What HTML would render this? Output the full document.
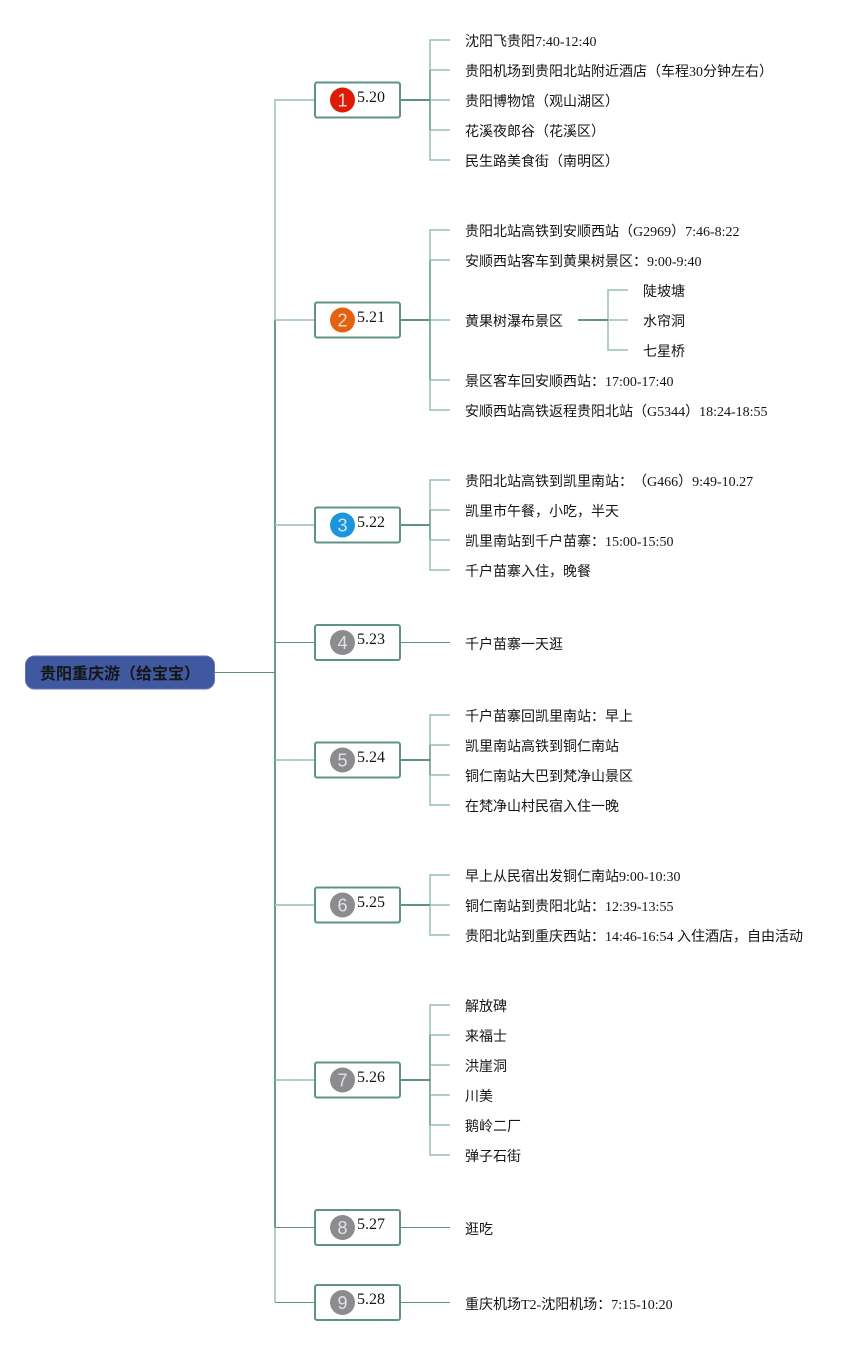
<!DOCTYPE html>
<html lang="zh"><head><meta charset="utf-8"><title>贵阳重庆游</title>
<style>
html,body{margin:0;padding:0;background:#fff}
svg{display:block}
text{font-family:"Liberation Serif","WenQuanYi Zen Hei","Noto Sans CJK SC",serif;font-size:14px;fill:#151515}
.d{font-size:16px}
.n{font-family:"Liberation Sans","DejaVu Sans",sans-serif;font-size:18px;fill:#eef2f4;text-anchor:middle;opacity:.85}
.l{stroke:#a5c8bd;stroke-width:1.7;fill:none}
.k{stroke:#6a9c8d;stroke-width:2;fill:none}
.t{stroke:#5b9080;stroke-width:1;fill:none}
.k2{stroke:#5f9485;stroke-width:2;fill:none}
.m{stroke:#7dab9e;stroke-width:1.7;fill:none}
.b{fill:#fff;stroke:#5f9485;stroke-width:2}
</style></head><body>
<svg width="863" height="1345" viewBox="0 0 863 1345" xmlns="http://www.w3.org/2000/svg">
<path class="l" d="M315 100H275V320"/>
<path class="k" d="M275 320V1227"/>
<path class="l" d="M275 1227V1302"/>
<path class="t" d="M215 672.500H275"/>
<path class="l" d="M275 320H315M275 525H315M275 760H315M275 905H315M275 1080H315"/>
<path class="t" d="M275 642.500H315M275 1227.500H315M275 1302.500H315M400 642.500H450M400 1227.500H450M400 1302.500H450"/>

<path class="l" d="M450 40H430V160H450M430 70H450M430 100H450M430 130H450"/>
<path class="l" d="M450 230H430V410H450M430 260H450M430 320H450M430 380H450"/>
<path class="l" d="M450 480H430V570H450M430 510H450M430 540H450"/>
<path class="l" d="M450 715H430V805H450M430 745H450M430 775H450"/>
<path class="l" d="M450 875H430V935H450M430 905H450"/>
<path class="l" d="M450 1005H430V1155H450M430 1035H450M430 1065H450M430 1095H450M430 1125H450"/>
<path class="l" d="M628 290H608V350H628M608 320H628"/>
<path class="m" d="M430 70V130M430 260V380M430 510V540M430 745V775M430 1035V1125"/>
<path class="k2" d="M400 100H430M400 320H430M400 525H430M400 760H430M400 905H430M400 1080H430M578 320H608"/>

<rect x="25.500" y="656" width="189" height="33" rx="9" fill="#3f58a0" stroke="#5f75b3" stroke-width="1"/>
<text x="40" y="679" font-weight="bold" style="font-size:16px;font-family:'Liberation Sans','Noto Sans CJK SC',sans-serif">贵阳重庆游（给宝宝）</text>

<rect class="b" x="315" y="82.500" width="85" height="35" rx="2"/>
<rect class="b" x="315" y="302.500" width="85" height="35" rx="2"/>
<rect class="b" x="315" y="507.500" width="85" height="35" rx="2"/>
<rect class="b" x="315" y="625" width="85" height="35" rx="2"/>
<rect class="b" x="315" y="742.500" width="85" height="35" rx="2"/>
<rect class="b" x="315" y="887.500" width="85" height="35" rx="2"/>
<rect class="b" x="315" y="1062.500" width="85" height="35" rx="2"/>
<rect class="b" x="315" y="1210" width="85" height="35" rx="2"/>
<rect class="b" x="315" y="1285" width="85" height="35" rx="2"/>

<circle cx="342.500" cy="100" r="12.500" fill="#dc1c06"/>
<circle cx="342.500" cy="320" r="12.500" fill="#e4610f"/>
<circle cx="342.500" cy="525" r="12.500" fill="#1b96dc"/>
<circle cx="342.500" cy="642.500" r="12.500" fill="#8c8c8e"/>
<circle cx="342.500" cy="760" r="12.500" fill="#8c8c8e"/>
<circle cx="342.500" cy="905" r="12.500" fill="#8c8c8e"/>
<circle cx="342.500" cy="1080" r="12.500" fill="#8c8c8e"/>
<circle cx="342.500" cy="1227.500" r="12.500" fill="#8c8c8e"/>
<circle cx="342.500" cy="1302.500" r="12.500" fill="#8c8c8e"/>
<text class="n" x="342.500" y="106.500">1</text>
<text class="n" x="342.500" y="326.500">2</text>
<text class="n" x="342.500" y="531.500">3</text>
<text class="n" x="342.500" y="649">4</text>
<text class="n" x="342.500" y="766.500">5</text>
<text class="n" x="342.500" y="911.500">6</text>
<text class="n" x="342.500" y="1086.500">7</text>
<text class="n" x="342.500" y="1234">8</text>
<text class="n" x="342.500" y="1309">9</text>

<text class="d" x="357" y="102">5.20</text>
<text class="d" x="357" y="322">5.21</text>
<text class="d" x="357" y="527">5.22</text>
<text class="d" x="357" y="644">5.23</text>
<text class="d" x="357" y="762">5.24</text>
<text class="d" x="357" y="907">5.25</text>
<text class="d" x="357" y="1082">5.26</text>
<text class="d" x="357" y="1229">5.27</text>
<text class="d" x="357" y="1304">5.28</text>

<text x="465" y="46">沈阳飞贵阳7:40-12:40</text>
<text x="465" y="76">贵阳机场到贵阳北站附近酒店（车程30分钟左右）</text>
<text x="465" y="106">贵阳博物馆（观山湖区）</text>
<text x="465" y="136">花溪夜郎谷（花溪区）</text>
<text x="465" y="166">民生路美食街（南明区）</text>
<text x="465" y="236">贵阳北站高铁到安顺西站（G2969）7:46-8:22</text>
<text x="465" y="266">安顺西站客车到黄果树景区：9:00-9:40</text>
<text x="465" y="326">黄果树瀑布景区</text>
<text x="643" y="296">陡坡塘</text>
<text x="643" y="326">水帘洞</text>
<text x="643" y="356">七星桥</text>
<text x="465" y="386">景区客车回安顺西站：17:00-17:40</text>
<text x="465" y="416">安顺西站高铁返程贵阳北站（G5344）18:24-18:55</text>
<text x="465" y="486">贵阳北站高铁到凯里南站：<tspan dx="7">（G466）9:49-10.27</tspan></text>
<text x="465" y="516">凯里市午餐，小吃，半天</text>
<text x="465" y="546">凯里南站到千户苗寨：15:00-15:50</text>
<text x="465" y="576">千户苗寨入住，晚餐</text>
<text x="465" y="649">千户苗寨一天逛</text>
<text x="465" y="721">千户苗寨回凯里南站：早上</text>
<text x="465" y="751">凯里南站高铁到铜仁南站</text>
<text x="465" y="781">铜仁南站大巴到梵净山景区</text>
<text x="465" y="811">在梵净山村民宿入住一晚</text>
<text x="465" y="881">早上从民宿出发铜仁南站9:00-10:30</text>
<text x="465" y="911">铜仁南站到贵阳北站：12:39-13:55</text>
<text x="465" y="941">贵阳北站到重庆西站：14:46-16:54 入住酒店，自由活动</text>
<text x="465" y="1011">解放碑</text>
<text x="465" y="1041">来福士</text>
<text x="465" y="1071">洪崖洞</text>
<text x="465" y="1101">川美</text>
<text x="465" y="1131">鹅岭二厂</text>
<text x="465" y="1161">弹子石街</text>
<text x="465" y="1234">逛吃</text>
<text x="465" y="1309">重庆机场T2-沈阳机场：7:15-10:20</text>
</svg>
</body></html>
